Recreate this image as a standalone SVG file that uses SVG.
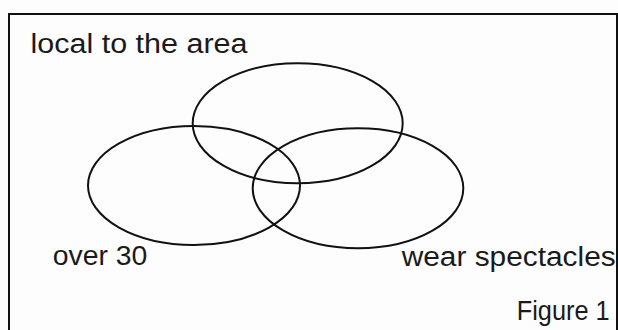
<svg xmlns="http://www.w3.org/2000/svg" width="618" height="330" viewBox="0 0 618 330">
<style>
.set{fill:none;stroke:#111;stroke-width:2}
.frame{fill:none;stroke:#111;stroke-width:2}
.lbl{font-family:"Liberation Sans","DejaVu Sans",sans-serif;font-size:27px;fill:#1a1a1a}
</style>
<rect width="618" height="330" fill="#fdfdfd"/>
<path class="frame" d="M9,332 V14 H617 V332"/>
<g id="local">
<ellipse class="set" cx="297.7" cy="123.3" rx="105" ry="60"/>
<text class="lbl" x="30.5" y="52.7" textLength="217" lengthAdjust="spacingAndGlyphs">local to the area</text>
</g>
<g id="over30">
<ellipse class="set" cx="194" cy="185.5" rx="106" ry="59.5"/>
<text class="lbl" x="52.7" y="265" textLength="94.6" lengthAdjust="spacingAndGlyphs">over 30</text>
</g>
<g id="spectacles">
<ellipse class="set" cx="358" cy="188.3" rx="105.3" ry="60"/>
<text class="lbl" x="401.7" y="266" textLength="214" lengthAdjust="spacingAndGlyphs">wear spectacles</text>
</g>
<g id="caption">
<text class="lbl" x="516.7" y="319.5" textLength="93" lengthAdjust="spacingAndGlyphs">Figure 1</text>
</g>
<g id="connectors"></g>
</svg>
